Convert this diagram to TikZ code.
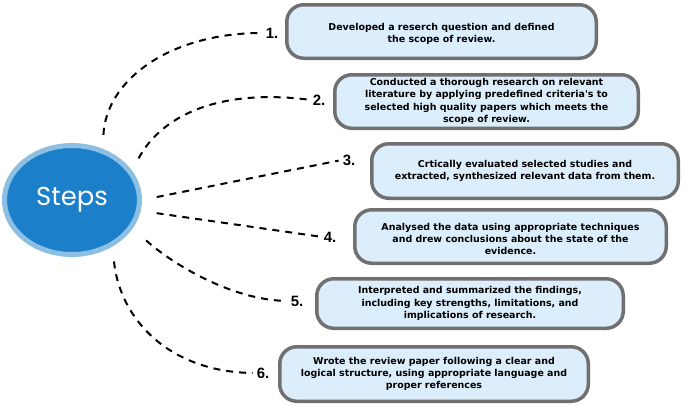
\documentclass[tikz,border=0pt]{standalone}
\usepackage{fontspec}
\setmainfont{Liberation Sans}
\newfontfamily\hubfont{Poppins}
\newfontfamily\boxfont{DejaVu Sans}
\usetikzlibrary{shapes.geometric}

\definecolor{hubblue}{HTML}{1B7FCA}
\definecolor{ringblue}{HTML}{8DBFE3}
\definecolor{boxfill}{HTML}{DCEEFB}
\definecolor{boxline}{HTML}{707070}

\tikzset{
  hub/.style={ellipse, draw=ringblue, line width=5bp, fill=hubblue, text=white,
    minimum width=135bp, minimum height=109bp, font=\hubfont\fontsize{26}{30}\selectfont},
  stepbox/.style={draw=boxline, line width=3.5bp, fill=boxfill, rounded corners=17bp,
    align=center, inner sep=0pt, font=\boxfont\bfseries\fontsize{9.5}{12.3}\selectfont},
  num/.style={font=\bfseries\fontsize{15}{17}\selectfont, inner sep=1bp},
  dashline/.style={dash pattern=on 7bp off 6bp, line width=2bp, shorten >=3bp},
}

\begin{document}
\begin{tikzpicture}[x=1bp, y=-1bp]
  \useasboundingbox (0,0) rectangle (685,405);

  % centre
  \node[hub] (steps) at (72,200) {Steps};

  % boxes
  \node[stepbox, minimum width=309.5bp, minimum height=53.5bp] (box1) at (441.5,31.5)
    {\rule{0pt}{12pt}Developed a reserch question and defined\\the scope of review.};
  \node[stepbox, minimum width=303.5bp, minimum height=53.5bp] (box2) at (486.5,101.5)
    {Conducted a thorough research on relevant\\literature by applying predefined criteria's to\\selected high quality papers which meets the\\scope of review.};
  \node[stepbox, minimum width=306.5bp, minimum height=54.5bp] (box3) at (525,171)
    {Crtically evaluated selected studies and\\extracted, synthesized relevant data from them.};
  \node[stepbox, minimum width=311.5bp, minimum height=53.5bp] (box4) at (510.5,236.5)
    {\rule{0pt}{12pt}Analysed the data using appropriate techniques\\and drew conclusions about the state of the\\evidence.};
  \node[stepbox, minimum width=306.5bp, minimum height=49.5bp] (box5) at (470,303.5)
    {Interpreted and summarized the findings,\\including key strengths, limitations, and\\implications of research.};
  \node[stepbox, minimum width=308.5bp, minimum height=54.5bp] (box6) at (434,374)
    {Wrote the review paper following a clear and\\logical structure, using appropriate language and\\proper references};

  % numbers
  \node[num] (n1) at (272,33) {1.};
  \node[num] (n2) at (319,100) {2.};
  \node[num] (n3) at (349,160) {3.};
  \node[num] (n4) at (330,237) {4.};
  \node[num] (n5) at (297,301) {5.};
  \node[num] (n6) at (263,373) {6.};

  % dashed links
  \draw[dashline, shorten <=14bp] (steps.59) .. controls (106,80) and (170,33) .. (n1.west);
  \draw[dashline, shorten <=14bp] (steps.26) .. controls (160,118) and (215,88) .. (n2.west);
  \draw[dashline, shorten <=15bp] (steps.0) -- (n3.west);
  \draw[dashline, shorten <=16bp] (steps.-9) -- (n4.west);
  \draw[dashline, shorten <=18bp] (steps.-25) .. controls (170,262) and (230,300) .. (n5.west);
  \draw[dashline, shorten <=15bp] (steps.-49) .. controls (120,320) and (170,372) .. (n6.west);
\end{tikzpicture}
\end{document}
